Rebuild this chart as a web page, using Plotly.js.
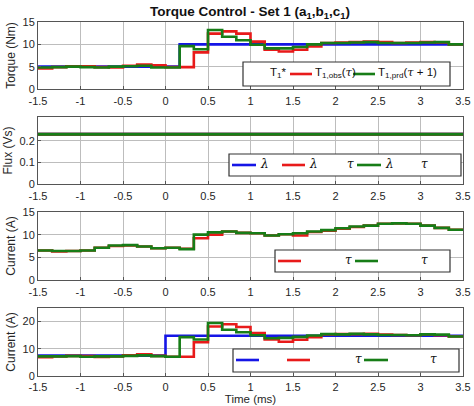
<!DOCTYPE html>
<html><head><meta charset="utf-8">
<script src="https://cdn.plot.ly/plotly-3.0.1.min.js"></script>
<style>html,body{margin:0;padding:0;background:#fff;}#chart{width:474px;height:406px;}</style>
</head><body><div id="chart"></div>
<script>
// time edges of each sample step (ms)
const time = [-1.5,-1.3333,-1.1667,-1.0,-0.8333,-0.6667,-0.5,-0.3333,-0.1667,0.0,
  0.1667,0.3333,0.5,0.6667,0.8333,1.0,1.1667,1.3333,1.5,1.6667,
  1.8333,2.0,2.1667,2.3333,2.5,2.6667,2.8333,3.0,3.1667,3.3333,3.5];

// Torque (Nm)
const torqueRef = [5,5,5,5,5,5,5,5,5,5, 10,10,10,10,10,10,10,10,10,10, 10,10,10,10,10,10,10,10,10,10,10];
const torqueObs = [4.6,4.9,5.1,5.1,4.9,4.8,5.2,5.5,5.3,4.9, 4.9,8.2,12.4,12.9,12.4,10.6,8.8,8.4,8.8,9.5, 10.3,10.4,10.5,10.6,10.5,10.3,10.4,10.5,10.4,10.0,10.0];
const torquePrd = [4.8,4.9,5.0,4.9,4.8,5.0,5.1,5.2,4.8,4.8, 9.6,8.9,13.2,11.7,10.9,9.9,9.1,9.1,9.4,10.0, 10.3,10.3,10.4,10.5,10.3,10.3,10.3,10.4,10.5,10.0,10.0];

// Flux (Vs)
const fluxRef = [0.23,0.23,0.23,0.23,0.23,0.23,0.23,0.23,0.23,0.23,0.23,0.23,0.23,0.23,0.23,0.23,0.23,0.23,0.23,0.23,0.23,0.23,0.23,0.23,0.23,0.23,0.23,0.23,0.23,0.23,0.23];
const fluxObs = [0.23,0.23,0.23,0.23,0.23,0.23,0.23,0.23,0.23,0.23,0.23,0.23,0.23,0.23,0.23,0.23,0.23,0.23,0.23,0.23,0.23,0.23,0.23,0.23,0.23,0.23,0.23,0.23,0.23,0.23,0.23];
const fluxPrd = [0.23,0.23,0.23,0.23,0.23,0.23,0.23,0.23,0.23,0.23,0.23,0.23,0.23,0.23,0.23,0.23,0.23,0.23,0.23,0.23,0.23,0.23,0.23,0.23,0.23,0.23,0.23,0.23,0.23,0.23,0.23];

// Current panel 3 (A)
const cur3Obs = [6.5,6.3,6.4,6.5,7.1,7.5,7.6,7.4,7.0,7.1, 6.9,9.2,10.0,10.7,10.4,10.3,9.8,10.1,9.8,10.6, 10.9,11.3,11.7,12.0,12.4,12.5,12.4,12.0,11.5,11.1,11.1];
const cur3Prd = [6.5,6.4,6.4,6.5,7.1,7.6,7.7,7.4,7.0,7.1, 6.8,10.0,10.5,10.7,10.4,10.3,9.8,10.1,10.3,10.7, 11.0,11.4,11.8,12.0,12.4,12.5,12.4,12.0,11.5,11.1,11.1];

// Current panel 4 (A)
const cur4Ref = [7.5,7.5,7.5,7.5,7.5,7.5,7.5,7.5,7.5,14.8, 14.8,14.8,14.8,14.8,14.8,14.8,14.8,14.8,14.8,14.8, 14.8,14.8,14.8,14.8,14.8,14.8,14.8,14.8,14.8,14.8,14.8];
const cur4Obs = [6.9,7.2,7.4,7.3,7.0,7.2,7.6,8.0,7.4,7.1, 7.1,12.4,18.2,19.0,18.0,15.8,13.4,12.6,13.3,14.3, 15.3,15.4,15.4,15.5,15.2,15.1,15.0,15.3,15.0,14.5,14.5];
const cur4Prd = [7.2,7.2,7.3,7.1,7.2,7.2,7.4,7.6,7.3,7.1, 14.3,13.4,19.5,17.0,16.1,15.0,13.9,14.0,14.4,14.9, 15.4,15.3,15.5,15.3,15.1,15.1,15.0,15.3,15.2,14.5,14.5];

const xTickVals = [-1.5,-1,-0.5,0,0.5,1,1.5,2,2.5,3,3.5];
const xTickText = ['-1.5','-1','-0.5','0','0.5','1','1.5','2','2.5','3','3.5'];
const yTitles = ['Torque (Nm)','Flux (Vs)','Current (A)','Current (A)'];

const BLUE = '#1515e6', RED = '#e81a1a', GREEN = '#177d17';
const LW = 2.6;

function tr(y, color, ax, w) {
  return {x: time, y: y, mode: 'lines', line: {shape: 'hv', color: color, width: w || LW},
          xaxis: 'x' + ax, yaxis: 'y' + ax, showlegend: false, hoverinfo: 'skip'};
}
const data = [
  tr(torqueRef, BLUE, ''), tr(torqueObs, RED, ''), tr(torquePrd, GREEN, ''),
  tr(fluxRef, BLUE, '2', 3), tr(fluxObs, RED, '2', 3), tr(fluxPrd, GREEN, '2', 3),
  tr(cur3Obs, RED, '3'), tr(cur3Prd, GREEN, '3'),
  tr(cur4Ref, BLUE, '4'), tr(cur4Obs, RED, '4'), tr(cur4Prd, GREEN, '4')
];

// pixel -> paper helpers
const X0 = 38, X1 = 463, YT = 22, YB = 376;
const px = x => (x - X0) / (X1 - X0);
const py = y => (YB - y) / (YB - YT);

const font = {family: 'Liberation Sans, Arial, sans-serif', size: 11, color: '#262626'};
function xa(anchor) {
  return {anchor: anchor, domain: [0, 1], range: [-1.5, 3.5], tickvals: xTickVals, ticktext: xTickText,
    showgrid: true, gridcolor: '#bdbdbd', gridwidth: 1, zeroline: false,
    showline: true, linecolor: '#555', linewidth: 1, mirror: true,
    ticks: 'inside', ticklen: 3, tickcolor: '#555', tickfont: font, ticklabelstandoff: 2};
}
function ya(anchor, dom, range, tv, title) {
  return {anchor: anchor, domain: dom, range: range, tickvals: tv,
    showgrid: true, gridcolor: '#bdbdbd', gridwidth: 1, zeroline: false,
    showline: true, linecolor: '#555', linewidth: 1, mirror: true,
    ticks: 'inside', ticklen: 3, tickcolor: '#555', tickfont: font,
    title: {text: title, font: {family: font.family, size: 12, color: '#262626'}, standoff: 4}};
}

const layout = {
  width: 474, height: 406,
  margin: {l: X0, r: 474 - X1, t: YT, b: 406 - YB},
  paper_bgcolor: '#fff', plot_bgcolor: '#fff',
  showlegend: false,
  title: {text: '<b>Torque Control - Set 1 (a<sub>1</sub>,b<sub>1</sub>,c<sub>1</sub>)</b>',
    font: {family: font.family, size: 13.5, color: '#111'}, x: px(250), xref: 'paper', xanchor: 'center',
    y: 1 - 11 / 406, yref: 'container', yanchor: 'middle'},
  xaxis: xa('y'), yaxis: ya('x', [py(89), py(22)], [0, 15], [0, 5, 10, 15], yTitles[0]),
  xaxis2: xa('y2'), yaxis2: ya('x2', [py(184), py(117)], [0, 0.31], [0, 0.1, 0.2], yTitles[1]),
  xaxis3: xa('y3'), yaxis3: ya('x3', [py(280), py(212)], [0, 15], [0, 5, 10, 15], yTitles[2]),
  xaxis4: Object.assign(xa('y4'), {ticklabelstandoff: 1,
    title: {text: 'Time (ms)', font: {family: font.family, size: 11.5, color: '#262626'}, standoff: 0}}),
  yaxis4: ya('x4', [0, py(308)], [0, 25], [0, 10, 20], yTitles[3]),
  shapes: [], annotations: []
};

function box(x0, y0, x1, y1) {
  layout.shapes.push({type: 'rect', xref: 'paper', yref: 'paper', x0: px(x0), x1: px(x1), y0: py(y1), y1: py(y0),
    fillcolor: '#fff', line: {color: '#333', width: 1.2}, layer: 'above'});
}
function seg(x0, x1, y, color) {
  layout.shapes.push({type: 'line', xref: 'paper', yref: 'paper', x0: px(x0), x1: px(x1), y0: py(y), y1: py(y),
    line: {color: color, width: 2.6}, layer: 'above'});
}
function txt(x, y, t, anchor, sz) {
  layout.annotations.push({xref: 'paper', yref: 'paper', x: px(x), y: py(y), text: t, showarrow: false,
    xanchor: anchor || 'left', yanchor: 'middle', font: {family: font.family, size: sz || 12, color: '#111'}});
}
const serif = s => '<span style="font-family:DejaVu Serif;font-style:italic">' + s + '</span>';

// legend 1
box(243, 62, 450, 86);
txt(289, 73, 'T<sub>1</sub>*', 'right', 11.5);
seg(290, 312, 74, RED);
txt(313, 73, 'T<sub>1,obs</sub>(' + serif('τ') + ')', 'left', 11.5);
seg(353, 375, 74, GREEN);
txt(376, 73, 'T<sub>1,prd</sub>(' + serif('τ') + ' + 1)', 'left', 11.5);

// legend 2
box(229, 154, 461, 176);
seg(232, 256, 165, BLUE); txt(258, 164, serif('λ'));
seg(282, 305, 165, RED); txt(307, 164, serif('λ'));
txt(345, 164, serif('τ'));
seg(357, 381, 165, GREEN); txt(383, 164, serif('λ'));
txt(419, 164, serif('τ'));

// legend 3
box(275, 250, 450, 272);
seg(278, 301, 261, RED); txt(343, 260, serif('τ'));
seg(355, 378, 261, GREEN); txt(419, 260, serif('τ'));

// legend 4
box(233, 349, 459, 372);
seg(236, 259, 360, BLUE);
seg(287, 310, 360, RED); txt(353, 359, serif('τ'));
seg(364, 388, 360, GREEN); txt(428, 359, serif('τ'));

Plotly.newPlot('chart', data, layout, {displayModeBar: false, staticPlot: true});
</script></body></html>
